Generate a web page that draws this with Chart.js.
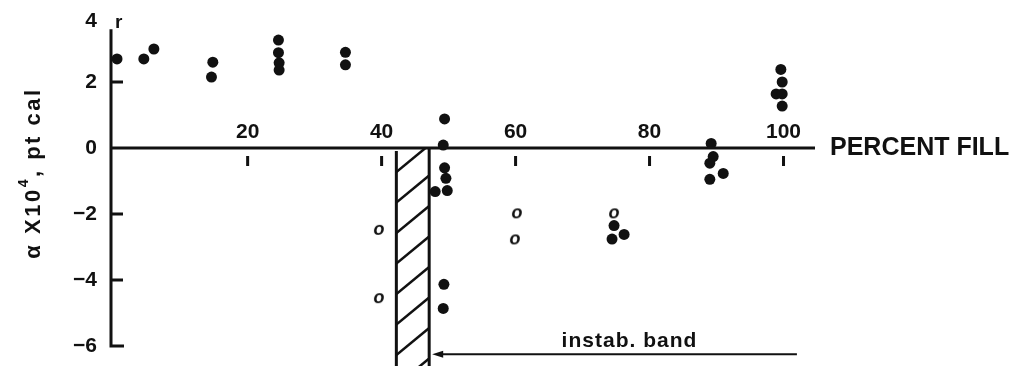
<!DOCTYPE html>
<html>
<head>
<meta charset="utf-8">
<script src="https://cdn.jsdelivr.net/npm/chart.js@4.4.1/dist/chart.umd.min.js"></script>
<style>
  html, body { margin: 0; padding: 0; background: #fff; }
  #wrap { width: 1016px; height: 366px; }
</style>
</head>
<body>
<div id="wrap"><canvas id="chart" width="1016" height="366"></canvas></div>
<script>
// alpha x 10^4 against percent fill
const filledX = [0.5, 4.5, 6.0, 14.8, 14.6, 24.6, 24.6, 24.7, 24.7, 34.6, 34.6,
  49.4, 49.2, 49.4, 49.6, 48.0, 49.8, 49.3, 49.2,
  74.7, 74.4, 76.2, 89.2, 89.5, 89.0, 89.0, 91.0,
  99.6, 99.8, 98.9, 99.8, 99.8];
const filledY = [2.7, 2.7, 3.0, 2.6, 2.15, 3.27, 2.89, 2.58, 2.36, 2.9, 2.52,
  0.88, 0.09, -0.6, -0.92, -1.32, -1.29, -4.13, -4.86,
  -2.35, -2.76, -2.62, 0.14, -0.26, -0.46, -0.95, -0.77,
  2.38, 2.0, 1.64, 1.64, 1.27];
const openX = [39.6, 39.6, 60.2, 59.9, 74.7];
const openY = [-2.48, -4.55, -1.98, -2.77, -1.98];

const xTicks = [20, 40, 60, 80, 100];
const yTicks = [4, 2, 0, -2, -4, -6];
const yTickMarks = [2, -2, -4];
const bandRange = [42.2, 47.1];
const arrowFrom = 102;
const arrowY = -6.25;
const bandLabelPos = [77, -5.86];

const xMin = -0.4, xMax = 104.7;
const yMin = -6, yMax = 4, yAxisTop = 3.6;

const INK = '#111';
const FONT = '"Liberation Sans", Arial, sans-serif';

// italic "o" used for the open points
function makeOpenMark() {
  const c = document.createElement('canvas');
  c.width = 18; c.height = 18;
  const g = c.getContext('2d');
  g.fillStyle = INK;
  g.font = `italic bold 18px ${FONT}`;
  g.textAlign = 'center';
  g.textBaseline = 'alphabetic';
  g.fillText('o', 9, 14);
  return c;
}

const fmt = (v) => (v < 0 ? '\u2212' + Math.abs(v) : String(v));

const paperPlugin = {
  id: 'paper',
  beforeDatasetsDraw(chart) {
    const { ctx, scales: { x, y } } = chart;
    const ax = x.getPixelForValue(xMin);
    const y0 = y.getPixelForValue(0);
    const bottom = chart.height;
    ctx.save();
    ctx.strokeStyle = INK;
    ctx.fillStyle = INK;

    // hatched instability band
    const bl = x.getPixelForValue(bandRange[0]);
    const br = x.getPixelForValue(bandRange[1]);
    ctx.save();
    ctx.beginPath();
    ctx.rect(bl, y0, br - bl, bottom - y0);
    ctx.clip();
    ctx.lineWidth = 2.5;
    for (let sy = y0 + 24; sy < bottom + 60; sy += 30.5) {
      ctx.beginPath();
      ctx.moveTo(bl, sy);
      ctx.lineTo(br, sy - 27);
      ctx.stroke();
    }
    ctx.restore();
    ctx.lineWidth = 3;
    ctx.beginPath();
    ctx.moveTo(bl, y0 + 3); ctx.lineTo(bl, bottom);
    ctx.moveTo(br, y0); ctx.lineTo(br, bottom);
    ctx.stroke();

    // axes
    const yb = y.getPixelForValue(yMin);
    ctx.lineWidth = 3;
    ctx.beginPath();
    ctx.moveTo(ax, y.getPixelForValue(yAxisTop));
    ctx.lineTo(ax, yb);
    ctx.lineTo(ax + 13, yb);
    ctx.moveTo(ax, y0);
    ctx.lineTo(x.getPixelForValue(xMax), y0);
    yTickMarks.forEach((v) => {
      const py = y.getPixelForValue(v);
      ctx.moveTo(ax, py); ctx.lineTo(ax + 12, py);
    });
    xTicks.forEach((v) => {
      const px = x.getPixelForValue(v);
      ctx.moveTo(px, y0 + 8); ctx.lineTo(px, y0 + 18);
    });
    ctx.stroke();

    // tick labels
    ctx.font = `bold 21px ${FONT}`;
    ctx.textAlign = 'right';
    ctx.textBaseline = 'middle';
    yTicks.forEach((v) => ctx.fillText(fmt(v), ax - 14, y.getPixelForValue(v) + (v === yMax ? 5 : 0)));
    ctx.textAlign = 'center';
    ctx.textBaseline = 'alphabetic';
    xTicks.forEach((v) => ctx.fillText(String(v), x.getPixelForValue(v), y0 - 10));

    ctx.font = `bold 25px ${FONT}`;
    ctx.textAlign = 'left';
    ctx.textBaseline = 'middle';
    ctx.fillText('PERCENT FILL', x.getPixelForValue(xMax) + 15, y0);

    ctx.font = `bold 19px ${FONT}`;
    ctx.fillText('r', ax + 4, y.getPixelForValue(yAxisTop) - 6);

    // band arrow and label
    ctx.lineWidth = 2;
    const ay = y.getPixelForValue(arrowY);
    const tip = br + 3;
    ctx.beginPath();
    ctx.moveTo(x.getPixelForValue(arrowFrom), ay);
    ctx.lineTo(tip + 6, ay);
    ctx.stroke();
    ctx.beginPath();
    ctx.moveTo(tip, ay);
    ctx.lineTo(tip + 11, ay - 3.5);
    ctx.lineTo(tip + 11, ay + 3.5);
    ctx.closePath();
    ctx.fill();
    ctx.font = `bold 21px ${FONT}`;
    ctx.letterSpacing = '1px';
    ctx.textAlign = 'center';
    ctx.fillText('instab. band', x.getPixelForValue(bandLabelPos[0]), y.getPixelForValue(bandLabelPos[1]));

    // rotated y title
    ctx.save();
    ctx.translate(33, 173);
    ctx.rotate(-Math.PI / 2);
    ctx.textBaseline = 'alphabetic';
    ctx.textAlign = 'left';
    ctx.letterSpacing = '2.5px';
    const big = `bold 22px ${FONT}`, small = `bold 14px ${FONT}`;
    const p1 = '\u03b1 X10', p2 = '4', p3 = ', pt cal';
    ctx.font = big; const w1 = ctx.measureText(p1).width, w3 = ctx.measureText(p3).width;
    ctx.font = small; const w2 = ctx.measureText(p2).width;
    let cx = -(w1 + w2 + w3) / 2;
    ctx.font = big; ctx.fillText(p1, cx, 7); cx += w1;
    ctx.font = small; ctx.fillText(p2, cx, -5); cx += w2;
    ctx.font = big; ctx.fillText(p3, cx, 7);
    ctx.restore();

    ctx.restore();
  }
};

new Chart(document.getElementById('chart'), {
  type: 'scatter',
  data: {
    datasets: [
      {
        label: 'filled',
        data: filledX.map((v, i) => ({ x: v, y: filledY[i] })),
        pointRadius: 5.5,
        pointBackgroundColor: INK,
        pointBorderWidth: 0,
        clip: false
      },
      {
        label: 'open',
        data: openX.map((v, i) => ({ x: v, y: openY[i] })),
        pointStyle: makeOpenMark(),
        clip: false
      }
    ]
  },
  options: {
    responsive: false,
    animation: false,
    events: [],
    layout: { padding: { left: 111, right: 201, top: 16, bottom: 20 } },
    scales: {
      x: { type: 'linear', min: xMin, max: xMax, display: false },
      y: { min: yMin, max: yMax, display: false }
    },
    plugins: { legend: { display: false }, tooltip: { enabled: false } }
  },
  plugins: [paperPlugin]
});
</script>
</body>
</html>
